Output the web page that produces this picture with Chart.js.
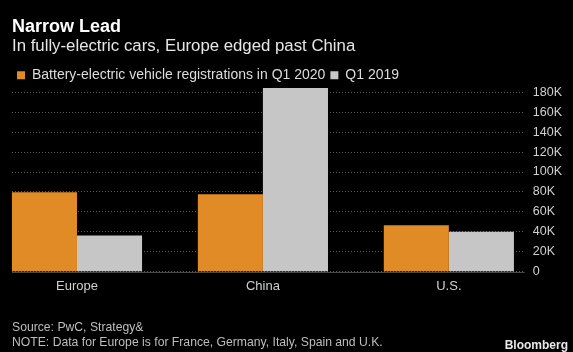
<!DOCTYPE html>
<html>
<head>
<meta charset="utf-8">
<script src="https://cdn.jsdelivr.net/npm/chart.js@4/dist/chart.umd.min.js"></script>
<style>
  html, body { margin: 0; padding: 0; background: #000; }
  #wrap { position: relative; width: 573px; height: 352px; background: #000; overflow: hidden; }
  canvas { position: absolute; left: 0; top: 0; }
  .foot { position: absolute; left: 12px; font-family: "Liberation Sans", Arial, sans-serif; font-size: 12.2px; color: #bdbdbd; white-space: nowrap; }
  #brand { position: absolute; right: 5px; top: 338px; font-family: "Liberation Sans", Arial, sans-serif; font-weight: bold; font-size: 12px; color: #e8e8e8; }
</style>
</head>
<body>
<div id="wrap">
  <canvas id="c" width="573" height="352"></canvas>
  <div class="foot" style="top:320px">Source: PwC, Strategy&amp;</div>
  <div class="foot" style="top:335px">NOTE: Data for Europe is for France, Germany, Italy, Spain and U.K.</div>
  <div id="brand">Bloomberg</div>
</div>
<script>
const categories = ["Europe", "China", "U.S."];
const seriesNames = ["Battery-electric vehicle registrations in Q1 2020", "Q1 2019"];
const q1_2020 = [79600, 77700, 46600];
const q1_2019 = [36400, 184400, 40000];
const yTickValues = [0, 20000, 40000, 60000, 80000, 100000, 120000, 140000, 160000, 180000];
const yTickLabels = ["0", "20K", "40K", "60K", "80K", "100K", "120K", "140K", "160K", "180K"];

const FONT = '"Liberation Sans", Arial, sans-serif';
const ORANGE = '#E08B25';
const GREY = '#C6C6C6';

// place category groups flush with the left edge of the plot (Bloomberg layout)
const X_START = -0.3495;
const X_RANGE = 2.758;

const zeroLine = {
  id: 'zeroLine',
  beforeDatasetsDraw(chart) {
    const y = chart.scales.y.getPixelForValue(0);
    const a = chart.chartArea;
    const ctx = chart.ctx;
    ctx.save();
    ctx.strokeStyle = '#4a4a4a';
    ctx.lineWidth = 1;
    ctx.beginPath();
    ctx.moveTo(a.left, Math.round(y) + 0.5);
    ctx.lineTo(a.right, Math.round(y) + 0.5);
    ctx.stroke();
    ctx.restore();
  }
};

new Chart(document.getElementById('c'), {
  type: 'bar',
  data: {
    labels: categories,
    datasets: [
      { label: seriesNames[0], data: q1_2020, backgroundColor: ORANGE, borderWidth: 0, clip: false },
      { label: seriesNames[1], data: q1_2019, backgroundColor: GREY, borderWidth: 0, clip: false }
    ]
  },
  options: {
    responsive: false,
    animation: false,
    devicePixelRatio: 1,
    layout: { padding: { left: 12, right: 3, top: 0, bottom: 51.3 } },
    datasets: { bar: { categoryPercentage: 0.7, barPercentage: 1.0 } },
    plugins: {
      title: {
        display: true, text: 'Narrow Lead', align: 'start', color: '#ffffff',
        font: { family: FONT, size: 18, weight: 'bold', lineHeight: 1.0 },
        padding: { top: 18.5, bottom: 0 }
      },
      subtitle: {
        display: true, text: 'In fully-electric cars, Europe edged past China', align: 'start', color: '#e6e6e6',
        font: { family: FONT, size: 16.8, weight: 'normal', lineHeight: 1.0 },
        padding: { top: 1.5, bottom: 8.5 }
      },
      legend: {
        display: true, position: 'top', align: 'start',
        labels: {
          color: '#dcdcdc', boxWidth: 8, boxHeight: 8, padding: 5,
          font: { family: FONT, size: 14 }
        }
      },
      tooltip: { enabled: false }
    },
    scales: {
      x: {
        type: 'category',
        offset: false,
        afterBuildTicks(scale) { scale._startValue = X_START; scale._valueRange = X_RANGE; },
        grid: { display: false, drawTicks: false, tickLength: 0 },
        border: { display: false },
        ticks: { color: '#d0d0d0', padding: 6.7, maxRotation: 0, font: { family: FONT, size: 13 } }
      },
      y: {
        position: 'right',
        min: 0,
        max: 180000,
        afterBuildTicks(scale) { scale.ticks = yTickValues.map(v => ({ value: v })); },
        grid: { color: '#5a5a5a', drawTicks: false, lineWidth: 1 },
        border: { display: false, dash: [1, 2] },
        ticks: {
          color: '#d0d0d0', padding: 8, font: { family: FONT, size: 12.5 },
          callback: (v) => { const i = yTickValues.indexOf(v); return i >= 0 ? yTickLabels[i] : ''; }
        }
      }
    }
  },
  plugins: [zeroLine]
});
</script>
</body>
</html>
